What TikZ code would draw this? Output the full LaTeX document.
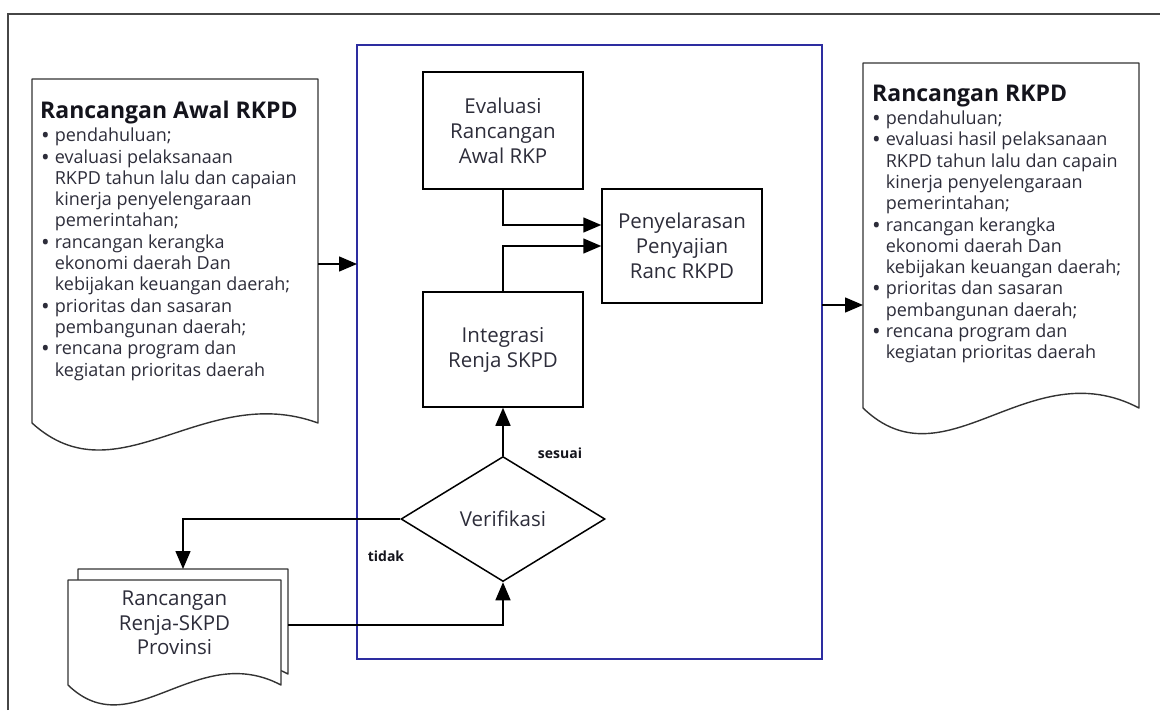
\documentclass[tikz,border=0pt]{standalone}
\usepackage{fontspec}
\setmainfont{Open Sans}
\usetikzlibrary{arrows.meta,calc,shapes.geometric}

\definecolor{ink}{RGB}{45,45,58}
\definecolor{headink}{RGB}{20,20,28}
\definecolor{framegray}{RGB}{70,70,70}
\definecolor{groupblue}{RGB}{45,45,160}

% document outline: node name, dip near the left, bump near the right, extra style
\newcommand\docoutline[4]{%
  \draw[docline,#4] (#1.south west) -- (#1.north west) -- (#1.north east) -- (#1.south east)
    .. controls ($(#1.south west)!0.6!(#1.south east)+(0,#3)$)
       and ($(#1.south west)!0.3!(#1.south east)+(0,#2)$) .. (#1.south west) -- cycle;}
% list bullet
\newcommand\lbul{\raisebox{-2pt}{\fontsize{23}{21.3}\selectfont •}}

\tikzset{
  docline/.style={draw=black!80, line width=1.4pt, line join=round},
  docarea/.style={inner sep=0pt, outer sep=0pt},
  procbox/.style={draw=black, line width=1.5pt, inner sep=0pt, minimum width=160pt,
    align=center, text=ink, font=\fontsize{20.5}{25}\selectfont},
  listtext/.style={anchor=base west, inner sep=0pt, text=ink, font=\fontsize{18}{21.3}\selectfont},
  doctitle/.style={anchor=base west, inner sep=0pt, text=headink, font=\fontsize{23}{26}\selectfont\bfseries},
  flowlabel/.style={inner sep=0pt, text=headink, font=\fontsize{14}{16}\selectfont\bfseries},
  arr/.style={draw=black, line width=1.5pt, -{Triangle[length=18pt,width=15pt]}},
}

\begin{document}
\begin{tikzpicture}[x=1pt,y=-1pt]
\useasboundingbox (0,0) rectangle (1160,710);

% page frame
\draw[framegray, line width=2pt] (8,710) -- (8,14) -- (1160,14);

% group frame
\node[draw=groupblue, line width=1.5pt, inner sep=0pt, outer sep=0pt,
      minimum width=465pt, minimum height=614pt] (grp) at (589.5,352) {};

% left document
\node[docarea, minimum width=286pt, minimum height=344pt] (docL) at (175,251) {};
\docoutline{docL}{78}{-42}{}
\node[doctitle] (docLtitle) at (40,118.3) {Rancangan Awal RKPD};
\node[listtext] (docLlist) at (41,141.7) {\begin{tabular}[t]{@{}l@{\hspace{5pt}}l@{}}
\lbul & pendahuluan;\\
\lbul & evaluasi pelaksanaan\\
  & RKPD tahun lalu dan capaian\\
  & kinerja penyelengaraan\\
  & pemerintahan;\\
\lbul & rancangan kerangka\\
  & ekonomi daerah Dan\\
  & kebijakan keuangan daerah;\\
\lbul & prioritas dan sasaran\\
  & pembangunan daerah;\\
\lbul & rencana program dan\\
  & kegiatan prioritas daerah
\end{tabular}};

% right document
\node[docarea, minimum width=276pt, minimum height=345pt] (docR) at (1001,235.5) {};
\docoutline{docR}{80}{-58}{}
\node[doctitle] (docRtitle) at (872,101.7) {Rancangan RKPD};
\node[listtext] (docRlist) at (872,124.5) {\begin{tabular}[t]{@{}l@{\hspace{5pt}}l@{}}
\lbul & pendahuluan;\\
\lbul & evaluasi hasil pelaksanaan\\
  & RKPD tahun lalu dan capain\\
  & kinerja penyelengaraan\\
  & pemerintahan;\\
\lbul & rancangan kerangka\\
  & ekonomi daerah Dan\\
  & kebijakan keuangan daerah;\\
\lbul & prioritas dan sasaran\\
  & pembangunan daerah;\\
\lbul & rencana program dan\\
  & kegiatan prioritas daerah
\end{tabular}};

% process boxes
\node[procbox, minimum height=117pt] (eval) at (503,130.5) {Evaluasi\\Rancangan\\Awal RKP};
\node[procbox, minimum height=114pt] (pen) at (682,246) {Penyelarasan\\Penyajian\\Ranc RKPD};
\node[procbox, minimum height=115pt] (integ) at (503,349.5) {Integrasi\\Renja SKPD};

% decision
\node[diamond, draw=black, line width=1.5pt, inner sep=0pt, aspect=1.63,
      minimum width=204pt, minimum height=125pt, text=ink,
      font=\fontsize{20.5}{25}\selectfont] (ver) at (503,519) {Verifikasi};

% stacked documents
\node[docarea, minimum width=210pt, minimum height=105pt] (provB) at (183,621.5) {};
\docoutline{provB}{62}{-45}{fill=white}
\node[docarea, minimum width=213pt, minimum height=105pt] (provF) at (174.5,632.5) {};
\docoutline{provF}{62}{-45}{fill=white}
\node[inner sep=0pt, align=center, text=ink, font=\fontsize{20.5}{24.5}\selectfont]
  (provtxt) at (174.5,623) {Rancangan\\Renja-SKPD\\Provinsi};

% labels
\node[flowlabel] (lblyes) at (560,453) {sesuai};
\node[flowlabel] (lblno) at (386,556) {tidak};

% connectors
\draw[arr] ([yshift=-13pt]docL.east) -- ([yshift=-13pt]docL.east -| grp.west);
\draw[arr] ([yshift=47pt]grp.east) -- ([yshift=47pt]grp.east -| docR.west);
\draw[arr] (eval.south) |- ([yshift=21pt]pen.west);
\draw[arr] (integ.north) |- (pen.west);
\draw[arr] (ver.north) -- (integ.south);
\draw[arr] (ver.west) -| (provB.north);
\draw[arr] ([yshift=-3.5pt]provB.east) -| (ver.south);
\end{tikzpicture}
\end{document}
